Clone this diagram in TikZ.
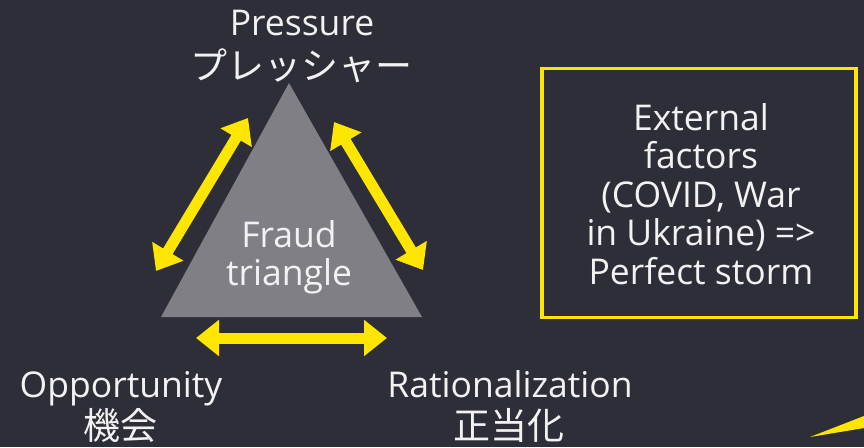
\documentclass[tikz,border=0pt]{standalone}
\usepackage{fontspec}
\setmainfont{Open Sans}
\newfontfamily\jpfont{Noto Sans CJK JP}
\usetikzlibrary{arrows.meta}
\definecolor{bg}{RGB}{46,46,56}
\definecolor{eyYellow}{RGB}{255,230,0}
\definecolor{triGrey}{RGB}{128,127,133}
\definecolor{paper}{RGB}{242,242,242}
\tikzset{
  lbl/.style={text=paper,font=\fontsize{35.5}{38.5}\selectfont,align=center,inner sep=0pt},
  jp/.style={text=paper,font=\jpfont\fontsize{37}{40}\selectfont,inner sep=0pt},
  dbl/.style={draw=eyYellow,line width=11pt,
    {Triangle[length=23pt,width=35pt]}-{Triangle[length=23pt,width=35pt]}},
  frame/.style={draw=eyYellow,line width=3.5pt},
}

\begin{document}
\begin{tikzpicture}[x=1pt,y=-1pt]
  \fill[bg] (0,0) rectangle (864,447);
  \useasboundingbox (0,0) rectangle (864,447);
  \coordinate (apex) at (289,83);
  \coordinate (bl) at (161,317);
  \coordinate (br) at (422,317);
  \fill[triGrey] (bl) -- (br) -- (apex) -- cycle;
  \node[lbl,anchor=north] (fraud) at (289,220) {Fraud\\triangle};
  \node[lbl,anchor=base] (press) at (302,35) {Pressure};
  \node[jp,anchor=base] (pressJ) at (301,79) {プレッシャー};
  \node[lbl,anchor=base] (opp) at (121,397) {Opportunity};
  \node[jp,anchor=base] (oppJ) at (120,439) {機会};
  \node[lbl,anchor=base] (rat) at (510,397) {Rationalization};
  \node[jp,anchor=base] (ratJ) at (509,439) {正当化};
  \coordinate (l1) at (156,271);
  \coordinate (l2) at (248,118);
  \coordinate (r1) at (334,122);
  \coordinate (r2) at (423,270);
  \coordinate (b1) at (196,338);
  \coordinate (b2) at (387,338);
  \draw[dbl] (l1) -- (l2);
  \draw[dbl] (r1) -- (r2);
  \draw[dbl] (b1) -- (b2);
  \node[frame,minimum width=314pt,minimum height=249pt] (ext) at (699,193) {};
  \node[lbl] (extTxt) at (701,194) {External\\factors\\(COVID, War\\in Ukraine) =>\\Perfect storm};
  \fill[eyYellow] (810,437) -- (864,416) -- (864,428) -- cycle;
\end{tikzpicture}
\end{document}
